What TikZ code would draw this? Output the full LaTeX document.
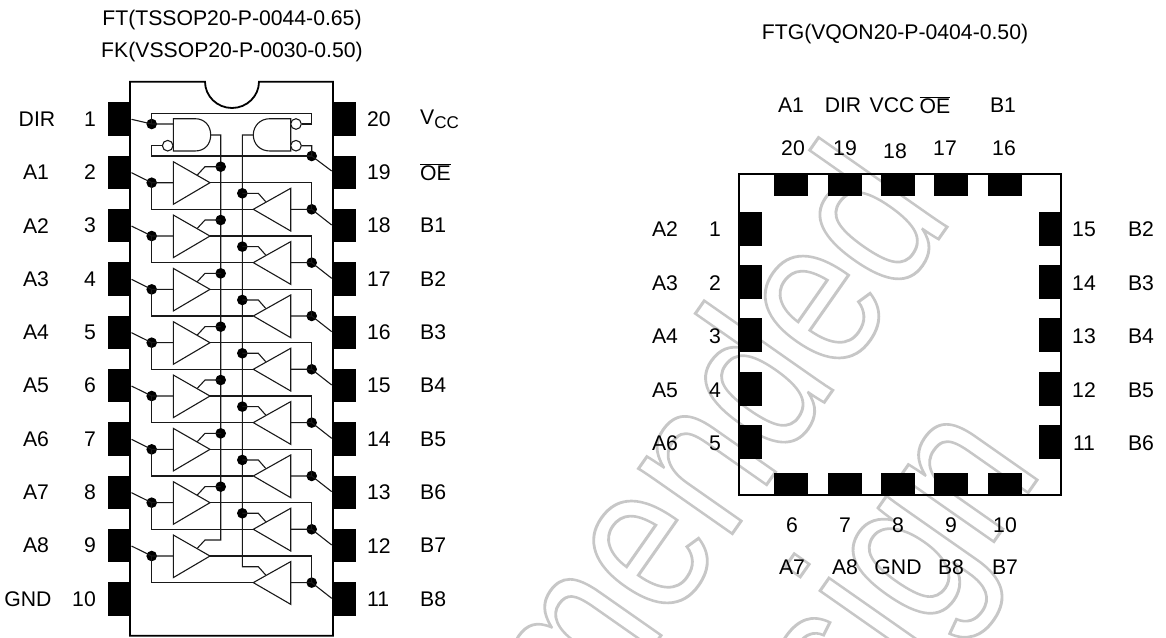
\documentclass[tikz,border=0pt]{standalone}
\usepackage{fontspec}
\setmainfont{Liberation Sans}
\newcommand{\wmtext}[1]{\special{pdf:code q 1 Tr 0.78 0.78 0.78 RG 0.78 0.78 0.78 rg 3 w}#1\special{pdf:code Q}}
\tikzset{
  x=1pt,y=-1pt,
  lab/.style={inner sep=0pt,font=\fontsize{21.2}{25}\selectfont,text=black},
  pinbox/.style={fill=black,draw=none,inner sep=0pt,minimum width=#1},
  jdot/.style={circle,fill=black,inner sep=0pt,minimum size=10.6pt},
  wire/.style={line width=1.1pt,draw=black!90,line cap=butt},
  bubble/.style={circle,draw=black!90,line width=1.1pt,fill=white,inner sep=0pt,minimum size=10.6pt},
  outline/.style={line width=1.8pt,draw=black},
  wm/.style={inner sep=0pt,rotate=55,transform shape,xscale=.83,font=\fontsize{216}{216}\selectfont}
}
\begin{document}
\begin{tikzpicture}
\useasboundingbox (0,0) rectangle (1166,637);
% watermark
\begin{scope}
\clip (0,0) rectangle (1166,637);
\node[wm,anchor=base east] (wmone) at (954,217) {\wmtext{Recommended}};
\node[wm,anchor=base east] (wmtwo) at (1044,470) {\wmtext{Design}};
\end{scope}
% DIP body
\draw[outline] (130,81.7) -- (205,81.7) .. controls (205,96) and (217,108) .. (232,108) .. controls (247,108) and (259,96) .. (259,81.7) -- (333,81.7) -- (333,635.7) -- (130,635.7) -- cycle;
\foreach \i in {1,...,10}{
  \node[pinbox=23pt,minimum height=33.4pt] (pl\i) at (119.7,{119+53.33*(\i-1)}) {};
  \node[pinbox=23pt,minimum height=33.4pt] (pr\i) at (344.3,{119+53.33*(\i-1)}) {};
}
% titles
\node[lab] (t1) at (232,20) {FT(TSSOP20-P-0044-0.65)};
\node[lab] (t2) at (232,52) {FK(VSSOP20-P-0030-0.50)};
\node[lab] (t3) at (895,34) {FTG(VQON20-P-0404-0.50)};
% left pin labels
\foreach \i/\n/\x in {1/DIR/37,2/A1/36,3/A2/36,4/A3/36,5/A4/36,6/A5/36,7/A6/36,8/A7/36,9/A8/36,10/GND/28}{
  \node[lab] (ln\i) at (\x,{119+53.33*(\i-1)}) {\n};
}
\foreach \i in {1,...,9}{ \node[lab,anchor=east] (ld\i) at (96,{119+53.33*(\i-1)}) {\i}; }
\node[lab,anchor=east] (ld10) at (96,599) {10};
\foreach \i/\n/\l in {1/20/{V\raisebox{-4pt}{\fontsize{17}{20}\selectfont CC}},2/19/{$\overline{\mbox{OE}}$},3/18/B1,4/17/B2,5/16/B3,6/15/B4,7/14/B5,8/13/B6,9/12/B7,10/11/B8}{
  \node[lab,anchor=west] (rd\i) at (367,{119+53.33*(\i-1)}) {\n};
  \node[lab,anchor=west] (rn\i) at (420,{119+53.33*(\i-1)}) {\l};
}
% gates
\draw[wire] (173.3,118.7) -- (195,118.7) .. controls (205,118.7) and (210.7,126) .. (210.7,135) .. controls (210.7,144) and (205,151) .. (195,151) -- (173.3,151) -- cycle;
\draw[wire] (290.7,118.7) -- (270,118.7) .. controls (260,118.7) and (253.3,126) .. (253.3,135) .. controls (253.3,144) and (260,151) .. (270,151) -- (290.7,151) -- cycle;
\node[bubble] (bub1) at (167.7,145.7) {};
\node[bubble] (bub2) at (296,124) {};
\node[bubble] (bub3) at (296,145.7) {};
\coordinate (ctl1) at (210.7,135);
\coordinate (ctl2) at (253.3,135);
\coordinate (gi1) at (173.3,124);
\coordinate (p1e) at (131.5,119.3);
\coordinate (p19e) at (331.7,171);
% bus
\coordinate (busL) at (220.7,135);
\coordinate (busLb) at (220.7,540);
\coordinate (busR) at (242.3,135);
\coordinate (busRb) at (242.3,566.7);
\draw[wire] (ctl1) -- (busL) -- (busLb) -- (205,540) -- (197.3,548.3);
\draw[wire] (ctl2) -- (busR) -- (busRb) -- (258.3,566.7) -- (265.7,575);
% control wires
\node[jdot] (dir) at (151.7,124) {};
\node[jdot] (oe) at (311.7,156) {};
\draw[wire] (p1e) -- (dir.center) -- (gi1);
\draw[wire] (dir.center) |- (311.7,113.7) -- (311.7,124) -- (bub2.east);
\draw[wire] (bub1.west) -- (151.7,145.7) |- (oe.center);
\draw[wire] (bub3.east) -- (311.7,145.7) -- (oe.center) -- (p19e);
% rows
\foreach \i in {2,...,9}{
\begin{scope}[yshift={-(\i-2)*53.33pt}]
  \coordinate (ai\i) at (131.5,172.7);
  \coordinate (bi\i) at (331.7,225);
  \node[jdot] (a\i) at (151.7,182.7) {};
  \node[jdot] (b\i) at (311.7,209.3) {};
  \draw[wire] (173.3,161.7) -- (210,182.7) -- (173.3,204.3) -- cycle;
  \draw[wire] (253.3,209.3) -- (290.7,188.3) -- (290.7,231) -- cycle;
  \draw[wire] (ai\i) -- (a\i.center) -- (173.3,182.7);
  \draw[wire] (a\i.center) |- (253.3,209.3);
  \draw[wire] (210,182.7) -| (b\i.center);
  \draw[wire] (290.7,209.3) -- (b\i.center) -- (bi\i);
  \ifnum\i<9
    \node[jdot] (el\i) at (220.7,166.7) {};
    \node[jdot] (er\i) at (242.3,193.3) {};
    \draw[wire] (197.3,175) -- (205,166.7) -- (el\i.center);
    \draw[wire] (er\i.center) -- (258.3,193.3) -- (265.7,201.7);
  \fi
\end{scope}
}
% QFN
\draw[outline] (739.3,174) rectangle (1061,495);
\foreach \x/\n in {1/a,2/b,3/c,4/d,5/e}{
  \node[pinbox=34pt,minimum height=22.5pt] (qt\n) at ({791.3+53.33*(\x-1)},185) {};
  \node[pinbox=34pt,minimum height=22.5pt] (qb\n) at ({791.3+53.33*(\x-1)},484.5) {};
  \node[pinbox=23pt,minimum height=34pt] (ql\n) at (750.3,{228.7+53.33*(\x-1)}) {};
  \node[pinbox=23pt,minimum height=34pt] (qr\n) at (1050.3,{228.7+53.33*(\x-1)}) {};
}
% QFN labels
\node[lab] (q1) at (791,105) {A1};
\node[lab] (q2) at (843,105) {DIR};
\node[lab] (q3) at (892,105) {VCC};
\node[lab] (q4) at (935,105) {$\overline{\mbox{OE}}$};
\node[lab] (q5) at (1003,105) {B1};
\node[lab] (q6) at (793,148) {20};
\node[lab] (q7) at (845,148) {19};
\node[lab] (q8) at (895,151) {18};
\node[lab] (q9) at (945,148) {17};
\node[lab] (q10) at (1004,148) {16};
\foreach \i/\n/\x/\y in {1/A2/665/229,2/A3/665/283,3/A4/665/336,4/A5/665/390,5/A6/665/443}{
  \node[lab] (qa\i) at (\x,\y) {\n};
  \node[lab] (qn\i) at (715,\y) {\i};
}
\foreach \a/\b/\y in {15/B2/229,14/B3/283,13/B4/336,12/B5/390,11/B6/443}{
  \node[lab] (qd\a) at (1084,\y) {\a};
  \node[lab] (qe\a) at (1141,\y) {\b};
}
\foreach \a/\b/\x in {6/A7/792,7/A8/845,8/GND/898,9/B8/951,10/B7/1005}{
  \node[lab] (qg\a) at (\x,525) {\a};
  \node[lab] (qh\a) at (\x,567) {\b};
}
\end{tikzpicture}
\end{document}
